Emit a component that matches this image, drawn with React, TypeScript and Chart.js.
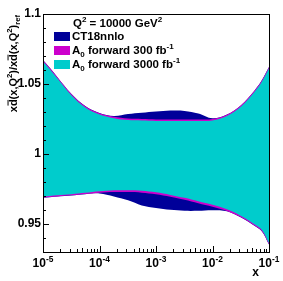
import React, { useEffect, useRef } from "react";
import { Chart, registerables } from "chart.js";

Chart.register(...registerables);

// ---- data ----
const xValues = [
  1e-5, 1.33e-5, 1.8e-5, 3.2e-5, 5.6e-5, 1e-4, 1.8e-4, 3.2e-4, 5.6e-4, 1e-3,
  1.8e-3, 3.2e-3, 5.6e-3, 1e-2, 1.8e-2, 3.2e-2, 5.6e-2, 7.5e-2, 1e-1,
];
const ct18Upper = [
  1.0671, 1.0614, 1.0549, 1.0428, 1.0342, 1.0292, 1.0271, 1.0285, 1.0294, 1.0303,
  1.031, 1.0308, 1.0289, 1.0255, 1.0282, 1.0349, 1.0456, 1.0528, 1.0621,
];
const ct18Lower = [
  0.9687, 0.9691, 0.9696, 0.9704, 0.9713, 0.9718, 0.9697, 0.9669, 0.9633, 0.9615,
  0.9601, 0.9594, 0.9594, 0.9599, 0.9591, 0.9546, 0.9486, 0.9447, 0.9354,
];
const fwd300Upper = [
  1.067, 1.0613, 1.0548, 1.0427, 1.0341, 1.0291, 1.0266, 1.0253, 1.025, 1.0247,
  1.0247, 1.0247, 1.0247, 1.025, 1.0281, 1.0348, 1.0455, 1.0527, 1.062,
];
const fwd300Lower = [
  0.9688, 0.9692, 0.9697, 0.9705, 0.9714, 0.9724, 0.9729, 0.9728, 0.9724, 0.9713,
  0.9695, 0.9674, 0.9649, 0.9624, 0.9593, 0.9548, 0.9488, 0.9449, 0.9356,
];
const fwd3000Upper = [
  1.0661, 1.0604, 1.0539, 1.0418, 1.0332, 1.0282, 1.0256, 1.0242, 1.0239, 1.0236,
  1.0236, 1.0236, 1.0236, 1.0239, 1.0271, 1.0339, 1.0446, 1.0518, 1.0611,
];
const fwd3000Lower = [
  0.9696, 0.97, 0.9705, 0.9713, 0.9723, 0.9734, 0.9741, 0.9741, 0.9737, 0.9726,
  0.9708, 0.9687, 0.9662, 0.9637, 0.9605, 0.9558, 0.9497, 0.9458, 0.9365,
];

const xMajorTicks = [1e-5, 1e-4, 1e-3, 1e-2, 1e-1];
const xTickExponents = ["-5", "-4", "-3", "-2", "-1"];
const yMajorTicks = [0.95, 1, 1.05, 1.1];
const yTickLabels = ["0.95", "1", "1.05", "1.1"];
const yMinorTicks = [
  0.93, 0.94, 0.96, 0.97, 0.98, 0.99, 1.01, 1.02, 1.03, 1.04, 1.06, 1.07, 1.08, 1.09,
];
const legendHeader = "Q";
const seriesNames = ["CT18nnlo", "A0 forward 300 fb-1", "A0 forward 3000 fb-1"];
const colNavy = "#000099";
const colMagenta = "#cc00cc";
const colCyan = "#00cccc";

type Seg = { t: string; s?: "sup" | "sub" | "over" };

const FONT = "'Liberation Sans', Arial, Helvetica, sans-serif";

function segFont(size: number, s?: string) {
  const sz = s === "sup" || s === "sub" ? size * 0.7 : size;
  return `bold ${sz}px ${FONT}`;
}

function richWidth(ctx: CanvasRenderingContext2D, segs: Seg[], size: number) {
  let w = 0;
  for (const sg of segs) {
    ctx.font = segFont(size, sg.s);
    w += ctx.measureText(sg.t).width;
  }
  return w;
}

function drawRich(ctx: CanvasRenderingContext2D, segs: Seg[], x: number, y: number, size: number) {
  let cx = x;
  ctx.textBaseline = "alphabetic";
  ctx.textAlign = "left";
  for (const sg of segs) {
    ctx.font = segFont(size, sg.s);
    let dy = 0;
    if (sg.s === "sup") dy = -size * 0.42;
    if (sg.s === "sub") dy = size * 0.28;
    ctx.fillText(sg.t, cx, y + dy);
    const w = ctx.measureText(sg.t).width;
    if (sg.s === "over") {
      ctx.save();
      ctx.fillRect(cx + 0.5, y - size * 0.86, w - 1, size * 0.09);
      ctx.restore();
    }
    cx += w;
  }
}

const decorPlugin = {
  id: "decor",
  afterDraw(chart: any) {
    const ctx: CanvasRenderingContext2D = chart.ctx;
    const { left, right, top, bottom } = chart.chartArea;
    const xs = chart.scales.x;
    const ys = chart.scales.y;
    ctx.save();
    ctx.fillStyle = "#000";
    ctx.strokeStyle = "#000";
    ctx.lineWidth = 1;
    // frame
    ctx.strokeRect(Math.round(left) + 0.5, Math.round(top) + 0.5, Math.round(right - left), Math.round(bottom - top));
    // x ticks (inside)
    ctx.beginPath();
    for (let d = 0; d < xMajorTicks.length; d++) {
      const base = xMajorTicks[d];
      const px = Math.round(xs.getPixelForValue(base)) + 0.5;
      ctx.moveTo(px, bottom);
      ctx.lineTo(px, bottom - 6);
      if (d < xMajorTicks.length - 1) {
        for (let m = 2; m <= 9; m++) {
          const mx = Math.round(xs.getPixelForValue(base * m)) + 0.5;
          const len = m === 5 ? 4 : 3;
          ctx.moveTo(mx, bottom);
          ctx.lineTo(mx, bottom - len);
        }
      }
    }
    // y ticks (inside)
    for (const v of yMajorTicks) {
      const py = Math.round(ys.getPixelForValue(v)) + 0.5;
      ctx.moveTo(left, py);
      ctx.lineTo(left + 6, py);
    }
    for (const v of yMinorTicks) {
      const py = Math.round(ys.getPixelForValue(v)) + 0.5;
      ctx.moveTo(left, py);
      ctx.lineTo(left + 3, py);
    }
    ctx.stroke();

    // y tick labels
    ctx.font = `bold 12px ${FONT}`;
    ctx.textAlign = "right";
    ctx.textBaseline = "middle";
    yMajorTicks.forEach((v, i) => {
      ctx.fillText(yTickLabels[i], left - 2, ys.getPixelForValue(v));
    });

    // x tick labels 10^n
    xMajorTicks.forEach((v, i) => {
      const segs: Seg[] = [{ t: "10" }, { t: xTickExponents[i], s: "sup" }];
      const w = richWidth(ctx, segs, 12);
      const px = xs.getPixelForValue(v);
      drawRich(ctx, segs, px - w / 2, bottom + 15, 12);
    });

    // x title
    ctx.font = `bold 12px ${FONT}`;
    ctx.textAlign = "right";
    ctx.textBaseline = "alphabetic";
    ctx.fillText("x", right - 10, bottom + 24);

    // y title (rotated, aligned to top)
    const ttl: Seg[] = [
      { t: "x" }, { t: "d", s: "over" }, { t: "(x,Q" }, { t: "2", s: "sup" }, { t: ")/x" },
      { t: "d", s: "over" }, { t: "(x,Q" }, { t: "2", s: "sup" }, { t: ")" }, { t: "ref", s: "sub" },
    ];
    const tw = richWidth(ctx, ttl, 11);
    ctx.save();
    ctx.translate(17, top + 1);
    ctx.rotate(-Math.PI / 2);
    drawRich(ctx, ttl, -tw, 0, 11);
    ctx.restore();

    // legend
    const fs = 11.5;
    drawRich(ctx, [{ t: legendHeader }, { t: "2", s: "sup" }, { t: " = 10000 GeV" }, { t: "2", s: "sup" }], left + 30, top + 13, fs);
    const entries: Seg[][] = [
      [{ t: seriesNames[0] }],
      [{ t: "A" }, { t: "0", s: "sub" }, { t: " forward 300 fb" }, { t: "-1", s: "sup" }],
      [{ t: "A" }, { t: "0", s: "sub" }, { t: " forward 3000 fb" }, { t: "-1", s: "sup" }],
    ];
    const cols = [colNavy, colMagenta, colCyan];
    entries.forEach((segs, i) => {
      const rowY = top + 22 + i * 14;
      ctx.fillStyle = cols[i];
      ctx.fillRect(left + 11, rowY - 4, 16, 9);
      ctx.fillStyle = "#000";
      drawRich(ctx, segs, left + 29, rowY + 4, fs);
    });
    ctx.restore();
  },
};

function band(label: string, upper: number[], lower: number[], color: string) {
  const mk = (arr: number[]) => xValues.map((x, i) => ({ x, y: arr[i] }));
  return [
    {
      label: label + " upper",
      data: mk(upper),
      borderWidth: 0,
      borderColor: color,
      backgroundColor: color,
      pointRadius: 0,
      tension: 0.35,
      fill: false,
    },
    {
      label,
      data: mk(lower),
      borderWidth: 0,
      borderColor: color,
      backgroundColor: color,
      pointRadius: 0,
      tension: 0.35,
      fill: "-1",
    },
  ];
}

export default function App() {
  const ref = useRef<HTMLCanvasElement | null>(null);
  useEffect(() => {
    if (!ref.current) return;
    const chart = new Chart(ref.current, {
      type: "line",
      data: {
        datasets: [
          ...band(seriesNames[2], fwd3000Upper, fwd3000Lower, colCyan),
          ...band(seriesNames[1], fwd300Upper, fwd300Lower, colMagenta),
          ...band(seriesNames[0], ct18Upper, ct18Lower, colNavy),
        ] as any,
      },
      options: {
        animation: false,
        responsive: false,
        devicePixelRatio: 1,
        layout: { padding: { left: 43, right: 14, top: 14, bottom: 29 } },
        plugins: { legend: { display: false }, tooltip: { enabled: false }, title: { display: false } },
        scales: {
          x: { type: "logarithmic", min: 1e-5, max: 1e-1, display: false },
          y: { type: "linear", min: 0.93, max: 1.1, display: false },
        },
      },
      plugins: [decorPlugin],
    });
    return () => chart.destroy();
  }, []);
  return (
    <div style={{ position: "fixed", left: 0, top: 0, width: 283, height: 281, background: "#fff" }}>
      <canvas ref={ref} width={283} height={281} style={{ width: 283, height: 281 }} />
    </div>
  );
}
